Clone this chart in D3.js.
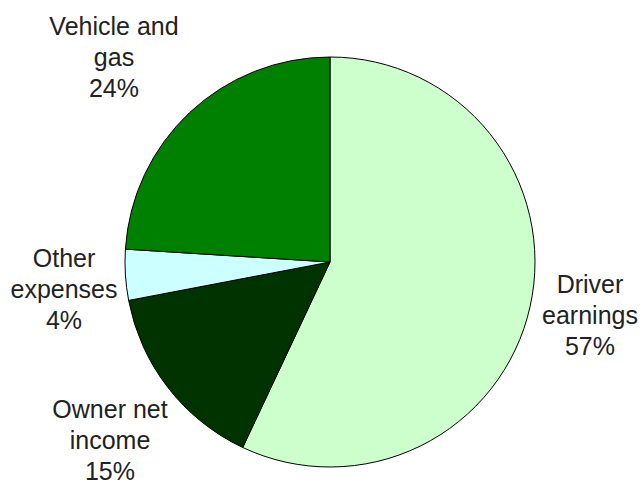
<!DOCTYPE html>
<html>
<head>
<meta charset="utf-8">
<script src="https://cdn.jsdelivr.net/npm/d3@7"></script>
<style>
  body { margin: 0; background: #fff; }
  text { font-family: "Liberation Sans", Arial, sans-serif; fill: #222; }
</style>
</head>
<body>
<div id="chart"></div>
<script>
// Chart data
const categories = ["Driver earnings", "Owner net income", "Other expenses", "Vehicle and gas"];
const values = [57, 15, 4, 24];
const labelLines = [
  ["Driver", "earnings", "57%"],
  ["Owner net", "income", "15%"],
  ["Other", "expenses", "4%"],
  ["Vehicle and", "gas", "24%"]
];
const colors = ["#ccffcc", "#003300", "#ccffff", "#008000"];

// Layout
const width = 640, height = 483;
const cx = 330, cy = 262, radius = 205;
const labelCenters = [[590, 293], [110, 418], [64, 267], [114, 35]];
const lineGap = 31;

const svg = d3.select("#chart")
  .append("svg")
    .attr("width", width)
    .attr("height", height);

const pie = d3.pie().sort(null).value(d => d);
const arc = d3.arc().innerRadius(0).outerRadius(radius);

const g = svg.append("g")
    .attr("transform", `translate(${cx},${cy})`);

g.selectAll("path")
  .data(pie(values))
  .enter().append("path")
    .attr("d", arc)
    .attr("fill", (d, i) => colors[i])
    .attr("stroke", "#000")
    .attr("stroke-width", 1);

// Labels
const labels = svg.append("g")
  .selectAll("text")
  .data(categories)
  .enter().append("text")
    .attr("text-anchor", "middle")
    .style("font-size", "25px");

labels.each(function(d, i) {
  const t = d3.select(this);
  labelLines[i].forEach((line, j) => {
    t.append("tspan")
      .attr("x", labelCenters[i][0])
      .attr("y", labelCenters[i][1] + j * lineGap)
      .text(line);
  });
});
</script>
</body>
</html>
